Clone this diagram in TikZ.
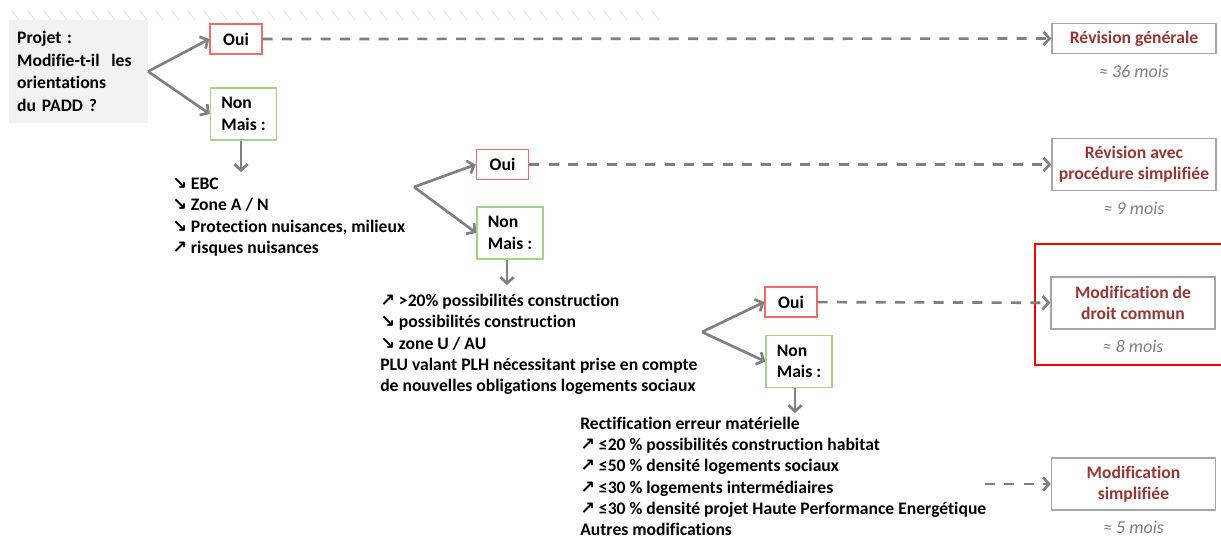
\documentclass[tikz,border=0pt]{standalone}
\usepackage{fontspec}
\setmainfont{Carlito}[Ligatures=NoCommon]
\newfontfamily\symbfont{DejaVu Sans}
\usetikzlibrary{positioning, arrows.meta}

\definecolor{ouired}{HTML}{F26B6B}
\definecolor{nongreen}{HTML}{A9D18E}
\definecolor{arrowgray}{HTML}{808080}
\definecolor{resultred}{HTML}{953735}
\definecolor{resultframe}{HTML}{A6A6A6}

\newcommand{\hausse}{{\symbfont\bfseries ↗}\ }
\newcommand{\baisse}{{\symbfont\bfseries ↘}\ }

\begin{document}
\begin{tikzpicture}[x=0.75pt, y=-0.75pt,
    font=\fontsize{13.2}{16}\selectfont\bfseries,
    oui/.style={draw=ouired, line width=1pt, minimum width=39pt, minimum height=22.5pt},
    non/.style={draw=nongreen, line width=1pt, minimum width=49.5pt, minimum height=39pt, align=left},
    result/.style={draw=resultframe, line width=1pt, minimum width=123pt, minimum height=22.5pt, text=resultred, align=center},
    duree/.style={font=\fontsize{13.5}{15}\selectfont\mdseries\itshape, text=arrowgray, inner sep=0pt, below=8pt of #1},
    liste/.style={anchor=west, align=left, inner sep=0pt},
    flow/.style={arrowgray, line width=2pt, -{Straight Barb[length=4.5pt, width=10pt]}},
    dashflow/.style={flow, dash pattern=on 7.5pt off 7pt}]
    \useasboundingbox (0,0) rectangle (1221,537);
    \foreach \x in {12,28,...,652}
        \draw[gray!18, line width=0.8pt] (\x,11) -- (\x+7,20);

    \node[fill=gray!10, minimum width=104pt, minimum height=77pt, text width=92pt, align=left,
        font=\fontsize{13.2}{17}\selectfont\bfseries] (projet) at (78.5,71.5)
        {Projet :\\Modifie-t-il~ les\\orientations\\du PADD ?};
    \node[oui] (oui1) at (236,39) {Oui};
    \node[non] (non1) at (243.5,114) {Non\\Mais :};
    \node[oui] (oui2) at (502.5,164.5) {Oui};
    \node[non] (non2) at (510,233) {Non\\Mais :};
    \node[oui] (oui3) at (791,302) {Oui};
    \node[non] (non3) at (799,361.5) {Non\\Mais :};

    \node[result] (rev1) at (1134,38.5) {Révision générale};
    \node[duree=rev1] (d36) {≈ 36 mois};
    \node[result, minimum height=39pt] (rev2) at (1134,164.5) {Révision avec\\procédure simplifiée};
    \node[duree=rev2] (d9) {≈ 9 mois};
    \node[result, minimum height=39pt] (mod1) at (1133,303) {Modification de\\droit commun};
    \node[duree=mod1] (d8) {≈ 8 mois};
    \node[result, minimum height=39pt] (mod2) at (1133.5,484) {Modification\\simplifiée};
    \node[duree=mod2] (d5) {≈ 5 mois};
    \draw[red, line width=2.2pt] (1035,244) rectangle (1240,365);

    \node[liste] (crit1) at (172,217) {\baisse EBC\\\baisse Zone A / N\\\baisse Protection nuisances, milieux\\\hausse risques nuisances};
    \node[liste] (crit2) at (380,344.5) {\hausse >20\% possibilités construction\\\baisse possibilités construction\\\baisse zone U / AU\\PLU valant PLH nécessitant prise en compte\\de nouvelles obligations logements sociaux};
    \node[liste] (crit3) at (580,476.5) {Rectification erreur matérielle\\\hausse ≤20 \% possibilités construction habitat\\\hausse ≤50 \% densité logements sociaux\\\hausse ≤30 \% logements intermédiaires\\\hausse ≤30 \% densité projet Haute Performance Energétique\\Autres modifications};

    \coordinate (fork2) at (414,187);
    \coordinate (fork3) at (702,332);
    \coordinate (in1) at (241,172);
    \coordinate (in2) at (507,285);
    \coordinate (in3) at (795,413);
    \coordinate (out3) at (985,484);

    \draw[flow] (projet.east) -- (oui1.west);
    \draw[flow] (projet.east) -- (non1.west);
    \draw[flow] (fork2) -- (oui2.west);
    \draw[flow] (fork2) -- (non2.west);
    \draw[flow] (fork3) -- (oui3.west);
    \draw[flow] (fork3) -- (non3.west);
    \draw[flow] (non1.south -| in1) -- (in1);
    \draw[flow] (non2.south -| in2) -- (in2);
    \draw[flow] (non3.south -| in3) -- (in3);

    \draw[dashflow] (oui1) -- (rev1);
    \draw[dashflow] (oui2) -- (rev2);
    \draw[dashflow] (oui3) -- (mod1);
    \draw[dashflow] (out3) -- (mod2);
\end{tikzpicture}
\end{document}
